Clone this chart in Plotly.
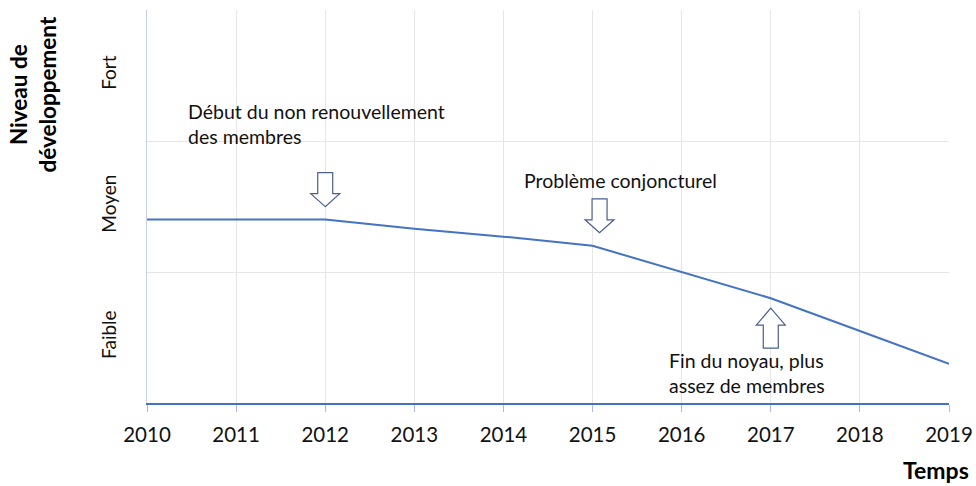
import plotly.graph_objects as go

# Data
years = [2010, 2011, 2012, 2013, 2014, 2015, 2016, 2017, 2018, 2019]
niveau = [1.40, 1.40, 1.40, 1.33, 1.27, 1.20, 1.00, 0.80, 0.55, 0.30]
level_vals = [0.5, 1.5, 2.5]
level_labels = ["Faible", "Moyen", "Fort"]
grid_levels = [1, 2, 3]

events = [
    dict(year=2012, text="Début du non renouvellement<br>des membres", tx=2010.44, ty=2.33, dir="down", dx=0),
    dict(year=2015, text="Problème conjoncturel", tx=2014.21, ty=1.80, dir="down", dx=7),
    dict(year=2017, text="Fin du noyau, plus<br>assez de membres", tx=2015.84, ty=0.43, dir="up", dx=0),
]

FONT = "Lato"
LINE = "#4472C4"
ARROW = "#4a5f8e"

fig = go.Figure()
fig.add_trace(go.Scatter(x=years, y=niveau, mode="lines",
                         line=dict(color=LINE, width=2), hoverinfo="skip"))

val = dict(zip(years, niveau))
shapes = []
annotations = []

down_path = "M 0 0 L -14.5 13 L -7.5 13 L -7.5 34 L 7.5 34 L 7.5 13 L 14.5 13 Z"
up_path = "M 0 0 L -14.5 -17 L -7.5 -17 L -7.5 -40 L 7.5 -40 L 7.5 -17 L 14.5 -17 Z"


def offset_path(p, dx, dy):
    toks = p.split()
    out = []
    i = 0
    while i < len(toks):
        t = toks[i]
        if t in ("M", "L"):
            out.append(f"{t} {float(toks[i + 1]) + dx} {float(toks[i + 2]) + dy}")
            i += 3
        else:
            out.append(t)
            i += 1
    return " ".join(out)


for ev in events:
    y0 = val[ev["year"]]
    if ev["dir"] == "down":
        path = offset_path(down_path, ev["dx"], 13)
    else:
        path = offset_path(up_path, ev["dx"], -10)
    shapes.append(dict(type="path", xref="x", yref="y", xsizemode="pixel", ysizemode="pixel",
                       xanchor=ev["year"], yanchor=y0, path=path,
                       line=dict(color=ARROW, width=1.2), fillcolor="white", layer="above"))
    annotations.append(dict(x=ev["tx"], y=ev["ty"], xref="x", yref="y", text=ev["text"],
                            showarrow=False, xanchor="left", yanchor="top", align="left",
                            font=dict(family=FONT, size=19.5, color="#111111")))

# Axis titles
annotations.append(dict(xref="paper", yref="paper", x=-0.142, y=0.785, text="<b>Niveau de<br>développement</b>",
                        textangle=-90, showarrow=False, xanchor="center", yanchor="middle",
                        font=dict(family=FONT, size=22.5, color="black")))
annotations.append(dict(xref="paper", yref="paper", x=1.027, y=-0.13, text="<b>Temps</b>",
                        showarrow=False, xanchor="right", yanchor="top",
                        font=dict(family=FONT, size=23, color="black")))

fig.update_layout(
    width=976, height=486,
    margin=dict(l=147, r=27, t=10, b=83, autoexpand=False),
    paper_bgcolor="white", plot_bgcolor="white",
    showlegend=False,
    shapes=shapes, annotations=annotations,
    xaxis=dict(range=[2010, 2019], tickvals=years, ticktext=[str(y) for y in years],
               automargin=False,
               showgrid=True, gridcolor="#e6e6e6", gridwidth=1,
               showline=True, linecolor=LINE, linewidth=1.5,
               ticks="outside", ticklen=7, tickcolor="#a9bbe3",
               ticklabelstandoff=6,
               tickfont=dict(family=FONT, size=20.5, color="#111111"),
               zeroline=False, fixedrange=True),
    yaxis=dict(range=[0, 3], tickvals=level_vals, ticktext=level_labels, tickangle=-90,
               automargin=False,
               showgrid=False, showline=True, linecolor="#c8cdf3", linewidth=1,
               ticks="outside", ticklen=22, tickcolor="rgba(0,0,0,0)",
               tickfont=dict(family=FONT, size=19, color="#111111"),
               minor=dict(tickvals=grid_levels, showgrid=True, gridcolor="#e6e6e6", gridwidth=1, ticks=""),
               zeroline=False, fixedrange=True),
)

fig.write_html("out.html", config={"displayModeBar": False},
               post_script="document.body.style.margin='0';document.body.style.padding='0';")
